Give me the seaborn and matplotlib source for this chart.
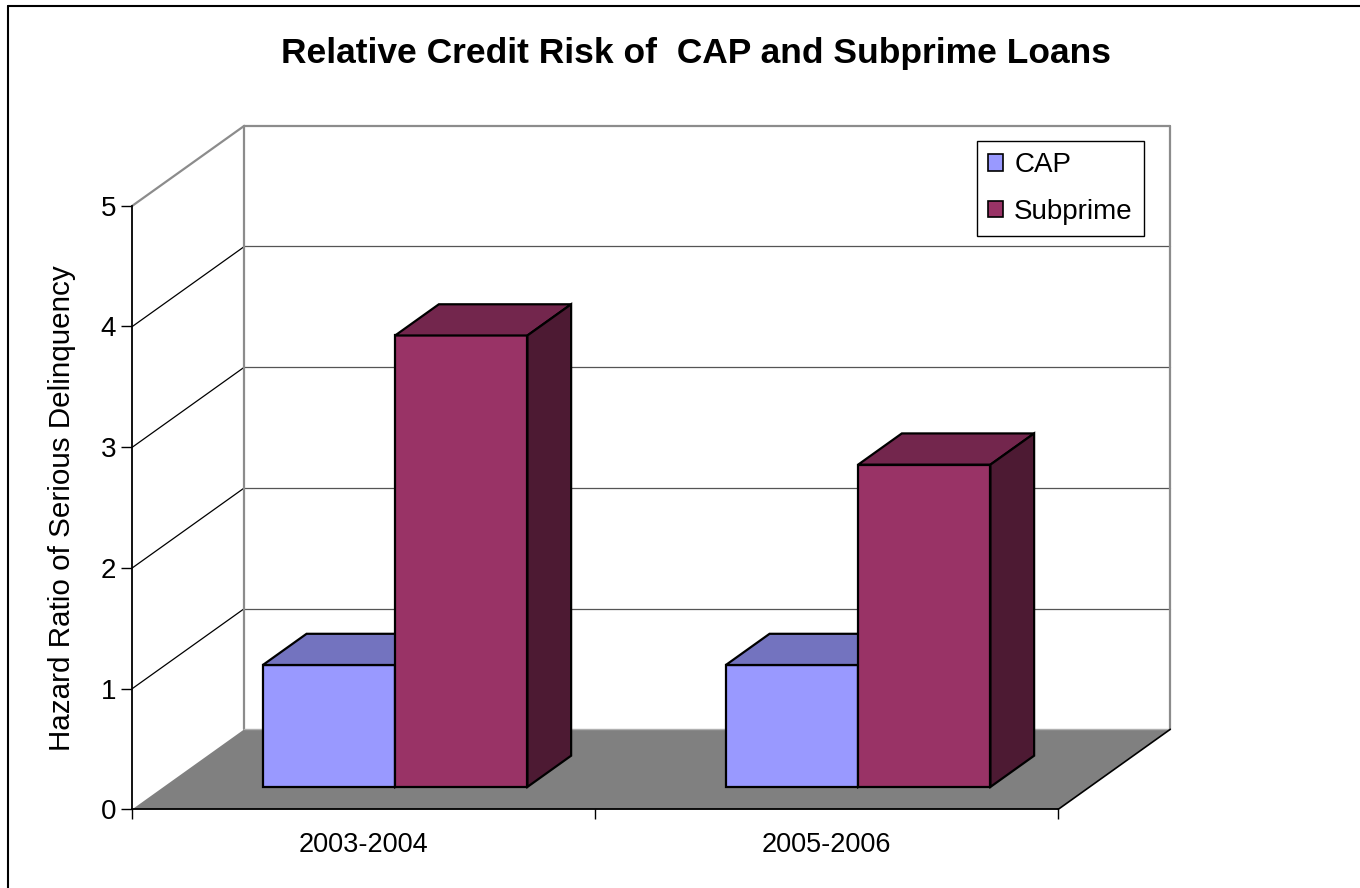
import numpy as np
import pandas as pd
import seaborn as sns
import matplotlib
matplotlib.use("Agg")
import matplotlib.pyplot as plt
from matplotlib.patches import Polygon, Patch
from matplotlib.lines import Line2D
import matplotlib.transforms as mtransforms

# ---------------- data ----------------
periods = ["2003-2004", "2005-2006"]
series_names = ["CAP", "Subprime"]
cap_values = [1.01, 1.01]
subprime_values = [3.74, 2.67]
y_ticks = [0, 1, 2, 3, 4, 5]
title_text = "Relative Credit Risk of  CAP and Subprime Loans"
y_label = "Hazard Ratio of Serious Delinquency"

front_colors = {"CAP": "#9999FF", "Subprime": "#993366"}
top_colors = {"CAP": "#7373BF", "Subprime": "#73264D"}
side_colors = {"CAP": "#4D4D80", "Subprime": "#4D1A33"}

df = pd.DataFrame({
    "period": periods * 2,
    "series": [series_names[0]] * len(periods) + [series_names[1]] * len(periods),
    "value": cap_values + subprime_values,
})

sns.set_theme(style="white")
plt.rcParams["font.family"] = ["Liberation Sans", "DejaVu Sans"]
plt.rcParams["text.color"] = "black"
plt.rcParams["xtick.color"] = "black"
plt.rcParams["ytick.color"] = "black"

W, H = 1360, 888
fig = plt.figure(figsize=(W / 100, H / 100), dpi=100)
fig.patch.set_facecolor("white")

# front plane of the 3D box in pixels
x0px, x1px = 132.3, 1058.3
y0px, y5px = 809.3, 205.8
ax = fig.add_axes([x0px / W, 1 - y0px / H, (x1px - x0px) / W, (y0px - y5px) / H])
ax.set_facecolor("none")

# depth offsets (data units)
DX = 112 / ((x1px - x0px) / 2)
DY = 80 / ((y0px - y5px) / 5)
f_front = 0.28
f_depth = 0.39

xl, xr = -0.5, len(periods) - 0.5

# ---------------- walls and floor ----------------
floor = Polygon([(xl, 0), (xr, 0), (xr + DX, DY), (xl + DX, DY)], closed=True,
                facecolor="#808080", edgecolor="none", zorder=0.5, clip_on=False)
ax.add_patch(floor)

for v in y_ticks[1:-1]:
    ax.plot([xl + DX, xr + DX], [v + DY, v + DY], color="#555555", lw=0.9,
            zorder=0.6, clip_on=False)
    ax.plot([xl, xl + DX], [v, v + DY], color="black", lw=0.9, zorder=0.6, clip_on=False)

ymax = y_ticks[-1]
wall_c = "#8C8C8C"
ax.plot([xl, xl + DX], [ymax, ymax + DY], color=wall_c, lw=1.6, zorder=0.7, clip_on=False)
ax.plot([xl + DX, xl + DX], [DY, ymax + DY], color=wall_c, lw=1.6, zorder=0.7, clip_on=False)
ax.plot([xl + DX, xr + DX], [ymax + DY, ymax + DY], color=wall_c, lw=1.6, zorder=0.7, clip_on=False)
ax.plot([xr + DX, xr + DX], [DY, ymax + DY], color=wall_c, lw=1.6, zorder=0.7, clip_on=False)
ax.plot([xl + DX, xr + DX], [DY, DY], color="#B0B0B0", lw=1.0, zorder=0.7, clip_on=False)
ax.plot([xr, xr + DX], [0, DY], color="black", lw=1.2, zorder=0.8, clip_on=False)

# ---------------- bars ----------------
sns.barplot(data=df, x="period", y="value", hue="series", hue_order=series_names,
            order=periods, palette=front_colors, width=2 / 3.5, gap=0,
            saturation=1, edgecolor="black", linewidth=1.6, legend=False, ax=ax)

ox, oy = f_front * DX, f_front * DY
bdx, bdy = f_depth * DX, f_depth * DY
for k, (name, cont) in enumerate(zip(series_names, ax.containers)):
    for p in cont.patches:
        x = p.get_x() + ox
        w = p.get_width()
        h = p.get_height()
        y = oy
        p.set_transform(mtransforms.Affine2D().translate(ox, oy) + ax.transData)
        p.set_zorder(3 + k)
        p.set_clip_on(False)
        top = Polygon([(x, y + h), (x + w, y + h), (x + w + bdx, y + h + bdy), (x + bdx, y + h + bdy)],
                      closed=True, facecolor=top_colors[name], edgecolor="black",
                      lw=1.6, zorder=3 + k, clip_on=False, joinstyle="miter")
        side = Polygon([(x + w, y), (x + w + bdx, y + bdy), (x + w + bdx, y + h + bdy), (x + w, y + h)],
                       closed=True, facecolor=side_colors[name], edgecolor="black",
                       lw=1.6, zorder=3 + k, clip_on=False, joinstyle="miter")
        ax.add_patch(top)
        ax.add_patch(side)

ax.set_xlim(xl, xr)
ax.set_ylim(0, ymax)

# ---------------- axes ----------------
for s in ["top", "right"]:
    ax.spines[s].set_visible(False)
for s in ["left", "bottom"]:
    ax.spines[s].set_color("black")
    ax.spines[s].set_linewidth(1.3)
    ax.spines[s].set_zorder(2)

ax.set_yticks(y_ticks)
ax.set_yticklabels([str(t) for t in y_ticks])
ax.tick_params(axis="y", which="major", direction="out", length=8, width=1,
               color="black", labelcolor="black", labelsize=20, pad=3.5, left=True)
ax.set_xticks(range(len(periods)))
ax.set_xticklabels(periods)
ax.set_xticks(np.arange(len(periods) + 1) - 0.5, minor=True)
ax.tick_params(axis="x", which="major", length=0, labelsize=19.5, pad=16,
               labelcolor="black")
ax.tick_params(axis="x", which="minor", direction="out", length=7, width=1,
               color="black", bottom=True)
ax.set_xlabel("")
ax.set_ylabel("")

fig.text(62 / W, 1 - 508 / H, y_label, rotation=90, ha="center", va="center",
         fontsize=21.3, color="black")
fig.text(696 / W, 1 - 54 / H, title_text, ha="center", va="center",
         fontsize=25.5, fontweight="bold", color="black")

handles = [Patch(facecolor=front_colors[n], edgecolor="black", lw=1.2, label=n)
           for n in series_names]
leg = ax.legend(handles=handles, loc="upper right", bbox_to_anchor=(1144 / W, 1 - 141 / H),
                bbox_transform=fig.transFigure, borderaxespad=0, fontsize=20,
                handlelength=0.55, handleheight=0.55, handletextpad=0.4,
                labelspacing=0.75, borderpad=0.4, frameon=True, fancybox=False,
                framealpha=1, edgecolor="black", labelcolor="black")
leg.get_frame().set_linewidth(1.0)
leg.set_zorder(10)

# outer border (left and top visible)
fig.add_artist(Line2D([8 / W, 8 / W], [0, 1 - 6 / H], color="black", lw=1.5,
                      transform=fig.transFigure))
fig.add_artist(Line2D([8 / W, 1], [1 - 6 / H, 1 - 6 / H], color="black", lw=1.5,
                      transform=fig.transFigure))

fig.savefig("out.png", dpi=100, facecolor="white")
